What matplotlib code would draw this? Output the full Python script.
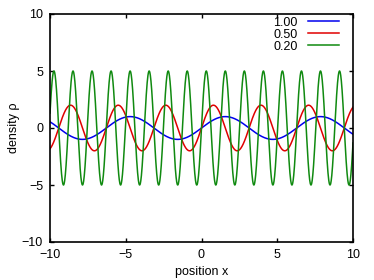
"""Density profiles for three wavelengths, gnuplot-like look."""

import matplotlib

matplotlib.use("Agg")
import matplotlib.pyplot as plt
import numpy as np

# wavelength labels and matching wave number / amplitude
LABELS = ["1.00", "0.50", "0.20"]
WAVE_NUMBERS = [1.0, 2.0, 5.0]
AMPLITUDES = [1.0, 2.0, 5.0]
COLORS = ["#0000ee", "#e00000", "#108a10"]

X_TICKS = [-10, -5, 0, 5, 10]
Y_TICKS = [-10, -5, 0, 5, 10]

plt.rcParams["font.family"] = ["Liberation Sans", "DejaVu Sans"]
plt.rcParams["font.size"] = 9

fig = plt.figure(figsize=(3.74, 2.8), dpi=100)
ax = fig.add_axes([50 / 374, 1 - 242 / 280, 303 / 374, 228 / 280])

x = np.linspace(-10, 10, 2000)
for label, k, amp, color in zip(LABELS, WAVE_NUMBERS, AMPLITUDES, COLORS):
    ax.plot(x, amp * np.sin(k * x), color=color, lw=1.1, label=label)

ax.set_xlim(-10, 10)
ax.set_ylim(-10, 10)
ax.set_xticks(X_TICKS)
ax.set_yticks(Y_TICKS)
ax.tick_params(direction="in", top=True, right=True, length=3, width=1)
ax.tick_params(axis="y", pad=5)
ax.tick_params(axis="x", pad=5)
for spine in ax.spines.values():
    spine.set_linewidth(1.2)

ax.set_xlabel("position x", labelpad=4)
ax.set_ylabel("density ρ", labelpad=1)

ax.legend(
    loc="upper right",
    frameon=False,
    markerfirst=False,
    fontsize=9,
    handlelength=2.5,
    handletextpad=0.8,
    labelspacing=0.0,
    borderaxespad=0.0,
    borderpad=0.2,
    bbox_to_anchor=(0.962, 1.0),
)

fig.savefig("out.png", dpi=100)
